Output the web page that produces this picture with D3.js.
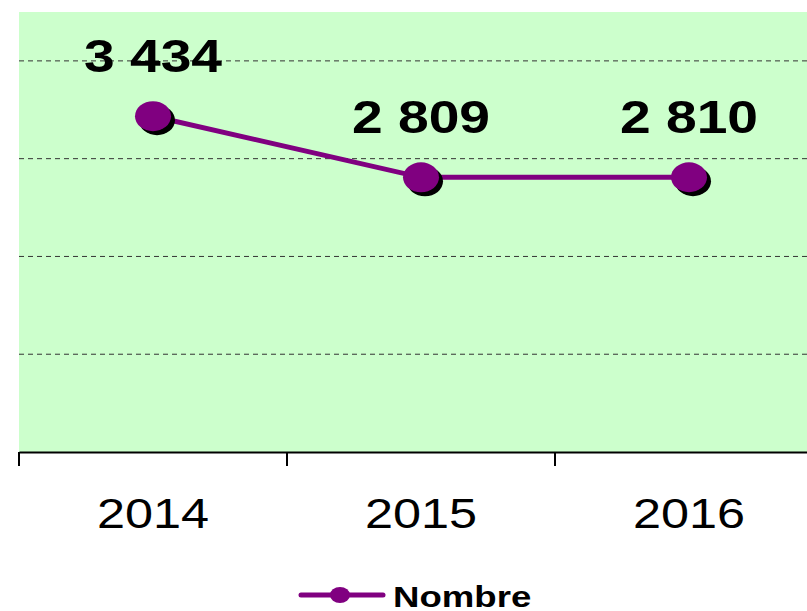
<!DOCTYPE html>
<html><head><meta charset="utf-8">
<script src="https://cdn.jsdelivr.net/npm/d3@7"></script>
<style>body{margin:0;background:#fff}svg{display:block}</style>
</head><body>
<script>
const categories = ["2014", "2015", "2016"];
const values = [3434, 2809, 2810];
const valueLabels = ["3 434", "2 809", "2 810"];
const gridValues = [1000, 2000, 3000, 4000];
const seriesName = "Nombre";

const W = 807, H = 611;
const svg = d3.select("body").append("svg").attr("width", W).attr("height", H);
const x = d3.scaleBand().domain(categories).range([19, 823]).padding(0);
const y = d3.scaleLinear().domain([0, 4500]).range([452, 12]);
const purple = "#800080";
const SX = 1.2;

svg.append("rect").attr("x", 19).attr("y", y(4500)).attr("width", 823 - 19).attr("height", y(0) - y(4500)).attr("fill", "#CCFFCC");

svg.selectAll("line.grid").data(gridValues).enter().append("line")
  .attr("x1", 19).attr("x2", 823).attr("y1", d => y(d)).attr("y2", d => y(d))
  .attr("stroke", "#333").attr("stroke-width", 1).attr("stroke-dasharray", "5,4");

const ax = svg.append("g").attr("transform", `translate(0,${y(0)})`)
  .call(d3.axisBottom(x).tickSize(0).tickFormat(""));
ax.select(".domain").attr("stroke", "#000").attr("stroke-width", 2);
const tickXs = [0, 1, 2, 3].map(i => 19 + i * x.bandwidth());
svg.selectAll("line.tk").data(tickXs).enter().append("line")
  .attr("x1", d => d).attr("x2", d => d).attr("y1", y(0)).attr("y2", y(0) + 14)
  .attr("stroke", "#000").attr("stroke-width", 2);

svg.selectAll("text.cat").data(categories).enter().append("text")
  .attr("transform", d => `translate(${x(d) + x.bandwidth() / 2},528) scale(${SX},1)`)
  .attr("text-anchor", "middle").attr("font-family", "Arial, Liberation Sans, sans-serif")
  .attr("font-size", 42).attr("fill", "#000").text(d => d);

const pts = categories.map((c, i) => ({ c, v: values[i], l: valueLabels[i] }));
const line = d3.line().x(d => x(d.c) + x.bandwidth() / 2).y(d => y(d.v));
svg.append("path").datum(pts).attr("d", line).attr("fill", "none")
  .attr("stroke", purple).attr("stroke-width", 5);

svg.selectAll("ellipse.sh").data(pts).enter().append("ellipse")
  .attr("cx", d => x(d.c) + x.bandwidth() / 2 + 4).attr("cy", d => y(d.v) + 4)
  .attr("rx", 18).attr("ry", 15).attr("fill", "#000");
svg.selectAll("ellipse.mk").data(pts).enter().append("ellipse")
  .attr("cx", d => x(d.c) + x.bandwidth() / 2).attr("cy", d => y(d.v))
  .attr("rx", 18).attr("ry", 15).attr("fill", purple);

svg.selectAll("text.lbl").data(pts).enter().append("text")
  .attr("transform", d => `translate(${x(d.c) + x.bandwidth() / 2},${y(d.v) - 44}) scale(${SX},1)`)
  .attr("text-anchor", "middle").attr("font-family", "Arial, Liberation Sans, sans-serif")
  .attr("font-weight", "bold").attr("font-size", 46).attr("fill", "#000").text(d => d.l);

const lg = svg.append("g");
lg.append("line").attr("x1", 301).attr("x2", 383).attr("y1", 595).attr("y2", 595)
  .attr("stroke", purple).attr("stroke-width", 5).attr("stroke-linecap", "round");
lg.append("ellipse").attr("cx", 340).attr("cy", 595).attr("rx", 10).attr("ry", 8).attr("fill", purple);
lg.append("text").attr("transform", `translate(393,607) scale(1.22,1)`)
  .attr("font-family", "Arial, Liberation Sans, sans-serif").attr("font-weight", "bold")
  .attr("font-size", 30).attr("fill", "#000").text(seriesName);
</script>
</body></html>
